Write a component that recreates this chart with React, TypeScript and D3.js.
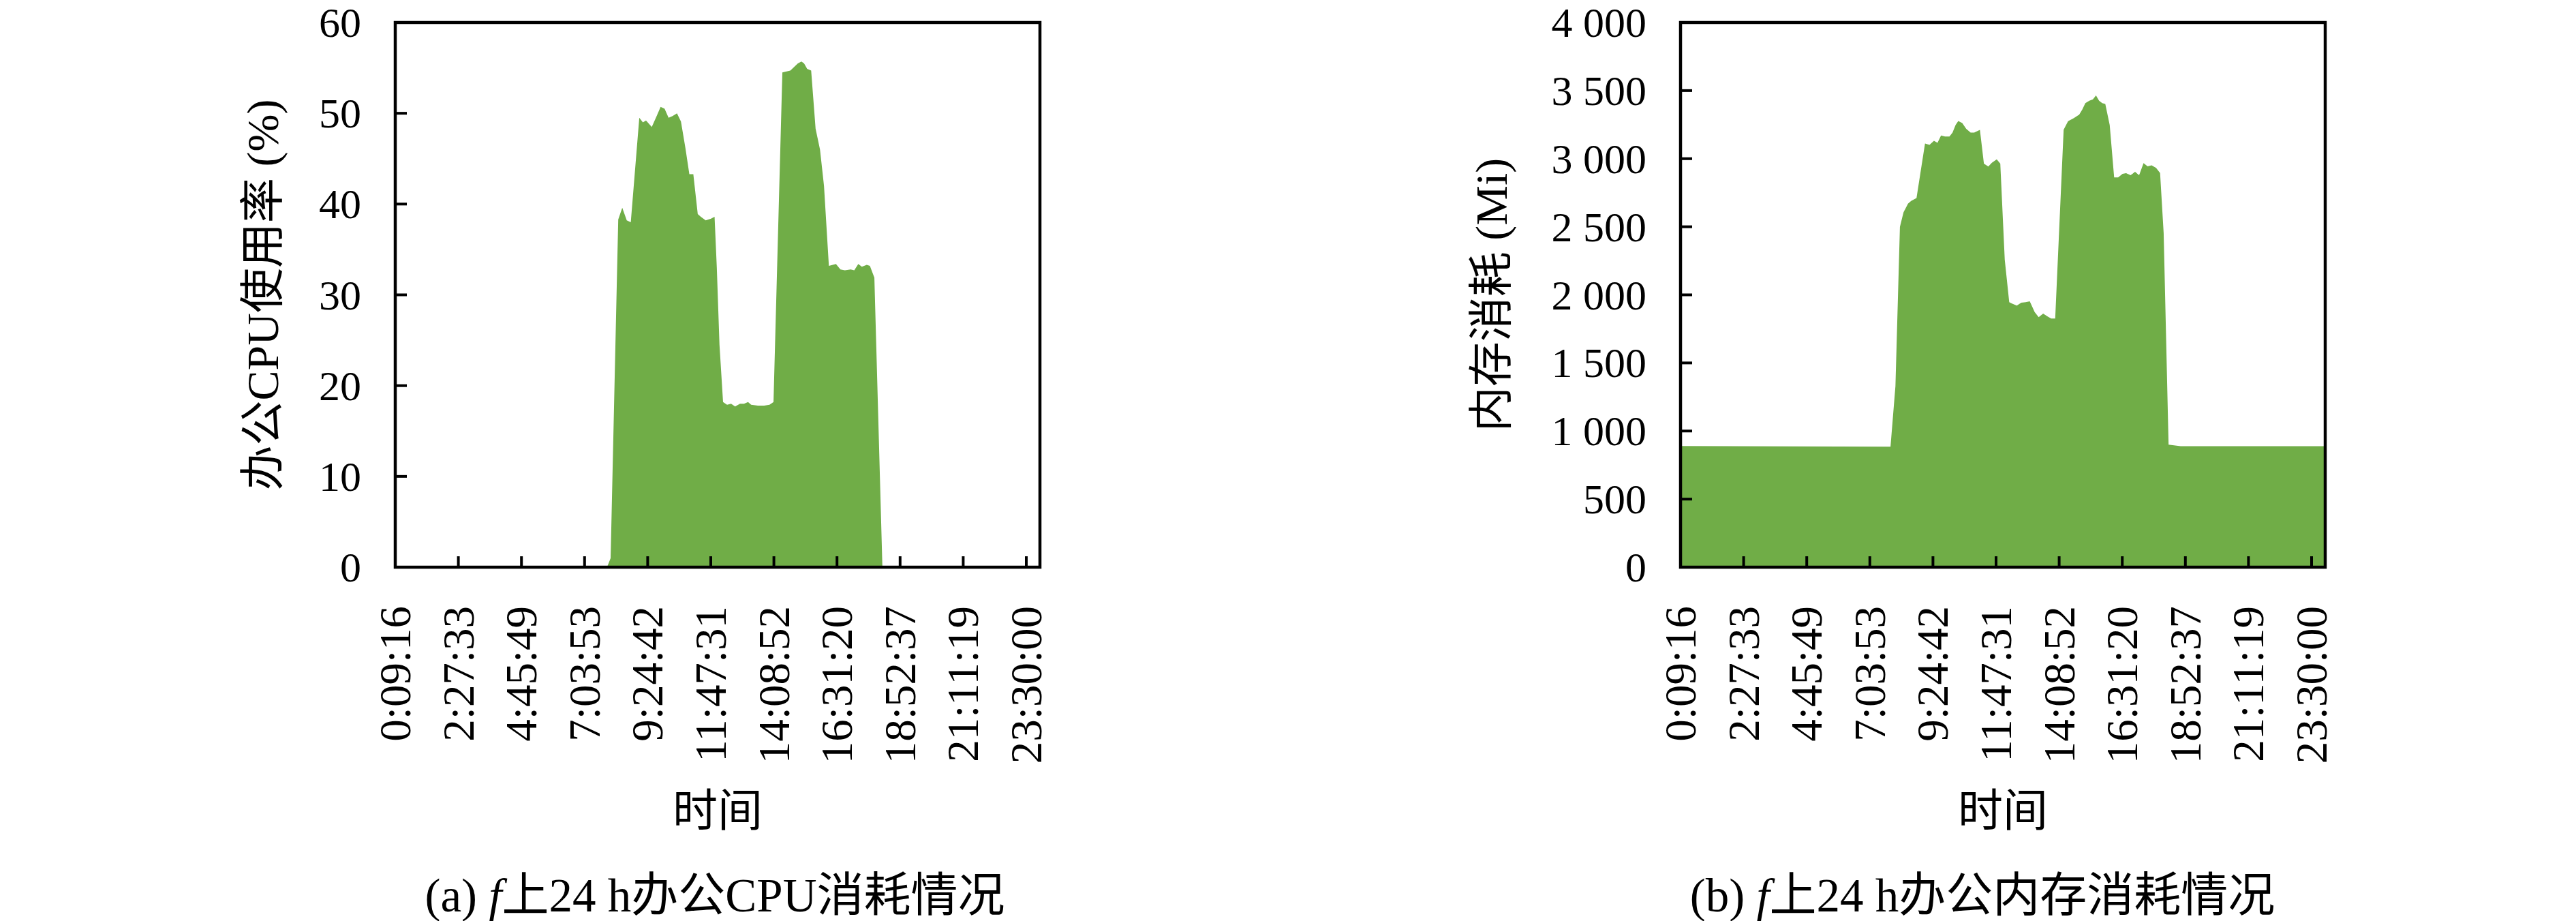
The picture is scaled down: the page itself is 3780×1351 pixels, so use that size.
import React, { useEffect, useRef } from "react";
import * as d3 from "d3";

// category labels on the time axis (every Nth sample)
const tickLabels = [
  "0:09:16", "2:27:33", "4:45:49", "7:03:53", "9:24:42", "11:47:31",
  "14:08:52", "16:31:20", "18:52:37", "21:11:19", "23:30:00",
];
const dayEnd = "24:00";

// CPU usage (%)
const cpuTimes = [
  "0:09:16", "7:54", "8:02", "8:19", "8:28", "8:38", "8:47", "9:06", "9:14", "9:21",
  "9:34", "9:45", "9:54", "10:03", "10:12", "10:21", "10:31", "10:40", "10:50", "10:59",
  "11:08", "11:18", "11:25", "11:36", "11:48", "11:56", "12:01", "12:07", "12:15", "12:24",
  "12:33", "12:42", "12:53", "13:02", "13:11", "13:18", "13:33", "13:47", "13:59", "14:08",
  "14:28", "14:46", "15:03", "15:11", "15:17", "15:24", "15:33", "15:43", "15:53", "16:02",
  "16:13", "16:29", "16:39", "16:49", "17:02", "17:10", "17:19", "17:27", "17:38", "17:45",
  "17:55", "18:13", "24:00",
];
const cpuValues = [
  0, 0, 1.0, 38.3, 39.6, 38.2, 38.0, 49.5, 49.0, 49.2,
  48.5, 49.7, 50.7, 50.5, 49.5, 49.7, 50.0, 49.1, 46.2, 43.3,
  43.3, 38.9, 38.6, 38.2, 38.4, 38.6, 33.0, 24.5, 18.2, 17.9,
  18.0, 17.7, 18.0, 18.0, 18.2, 17.9, 17.8, 17.8, 17.9, 18.2,
  54.5, 54.7, 55.5, 55.7, 55.5, 54.9, 54.7, 48.3, 46.0, 42.0,
  33.2, 33.4, 32.8, 32.7, 32.8, 32.7, 33.4, 33.1, 33.3, 33.2,
  31.9, 0, 0,
];

// memory usage (Mi)
const memTimes = [
  "0:09:16", "7:50", "8:01", "8:11", "8:19", "8:29", "8:36", "8:48", "9:07", "9:17",
  "9:27", "9:35", "9:43", "9:52", "10:02", "10:09", "10:16", "10:22", "10:31", "10:40",
  "10:50", "10:58", "11:11", "11:20", "11:30", "11:38", "11:49", "11:57", "12:07", "12:17",
  "12:24", "12:34", "12:44", "12:54", "13:03", "13:14", "13:23", "13:33", "13:43", "13:51",
  "14:00", "14:19", "14:29", "14:42", "14:54", "15:01", "15:08", "15:17", "15:25", "15:32",
  "15:39", "15:46", "15:53", "16:03", "16:13", "16:22", "16:32", "16:40", "16:50", "17:00",
  "17:09", "17:19", "17:28", "17:37", "17:47", "17:56", "18:04", "18:15", "18:42", "24:00",
];
const memValues = [
  890, 885, 1330, 2500, 2606, 2669, 2690, 2711, 3111, 3101,
  3132, 3117, 3170, 3163, 3163, 3191, 3248, 3276, 3262, 3219,
  3191, 3191, 3211, 2964, 2942, 2970, 2995, 2964, 2258, 1946,
  1935, 1921, 1942, 1946, 1952, 1874, 1836, 1862, 1841, 1826,
  1826, 3213, 3275, 3298, 3323, 3360, 3408, 3425, 3436, 3464,
  3425, 3408, 3402, 3246, 2862, 2862, 2889, 2893, 2878, 2904,
  2878, 2967, 2944, 2951, 2933, 2895, 2453, 900, 889, 888,
];

const cpuTicks = [0, 10, 20, 30, 40, 50, 60];
const memTicks = [0, 500, 1000, 1500, 2000, 2500, 3000, 3500, 4000];

const GREEN = "#70AD47";
const SERIF = "'Liberation Serif', 'DejaVu Serif', 'Noto Sans CJK SC', serif";
const TOP = 33;
const PLOT_H = 799;
const STEP = 92.6; // spacing between labelled categories
const TAIL = 20; // axis runs a little past the last label

// "H:MM" or "H:MM:SS" -> minutes of the day
const toMin = (s: string) => {
  const p = s.split(":").map(Number);
  return p[0] * 60 + p[1] + (p[2] || 0) / 60;
};

const groupFmt = (v: number) =>
  v >= 1000 ? `${Math.floor(v / 1000)}\u2005${String(v % 1000).padStart(3, "0")}` : String(v);

const drawPanel = (svg: any, cfg: any) => {
  const g = svg.append("g").attr("transform", `translate(${cfg.left},${TOP})`);

  // polylinear scale: labelled categories are evenly spaced
  const x = d3
    .scaleLinear()
    .domain([...tickLabels.map(toMin), toMin(dayEnd)])
    .range([...tickLabels.map((_, i) => i * STEP), (tickLabels.length - 1) * STEP + TAIL]);
  const y = d3.scaleLinear().domain([0, cfg.max]).range([PLOT_H, 0]);
  const plotW = x.range()[x.range().length - 1];

  const area = d3
    .area<[string, number]>()
    .x((d) => x(toMin(d[0])))
    .y0(y(0))
    .y1((d) => y(d[1]));

  g.append("path")
    .datum(d3.zip(cfg.times, cfg.values))
    .attr("d", area)
    .attr("fill", GREEN);

  // frame
  g.append("rect")
    .attr("x", 0)
    .attr("y", 0)
    .attr("width", plotW)
    .attr("height", PLOT_H)
    .attr("fill", "none")
    .attr("stroke", "#000")
    .attr("stroke-width", 4.5);

  // x ticks (inside)
  g.selectAll(".xt")
    .data(tickLabels.slice(1))
    .enter()
    .append("line")
    .attr("x1", (d: string) => x(toMin(d)))
    .attr("x2", (d: string) => x(toMin(d)))
    .attr("y1", PLOT_H)
    .attr("y2", PLOT_H - 16)
    .attr("stroke", "#000")
    .attr("stroke-width", 4);

  g.selectAll(".xl")
    .data(tickLabels)
    .enter()
    .append("text")
    .attr("transform", (d: string) => `translate(${x(toMin(d))},${PLOT_H + 57}) rotate(-90)`)
    .attr("text-anchor", "end")
    .attr("dominant-baseline", "central")
    .style("font-family", SERIF)
    .style("font-size", "65px")
    .text((d: string) => d);

  // y ticks (inside)
  g.selectAll(".yt")
    .data(cfg.ticks)
    .enter()
    .append("line")
    .attr("x1", 0)
    .attr("x2", 17)
    .attr("y1", (d: number) => y(d))
    .attr("y2", (d: number) => y(d))
    .attr("stroke", "#000")
    .attr("stroke-width", 4);

  g.selectAll(".yl")
    .data(cfg.ticks)
    .enter()
    .append("text")
    .attr("x", -50)
    .attr("y", (d: number) => y(d))
    .attr("text-anchor", "end")
    .attr("dominant-baseline", "central")
    .style("font-family", SERIF)
    .style("font-size", "62px")
    .text((d: number) => groupFmt(d));

  // axis titles
  g.append("text")
    .attr("transform", `translate(${-cfg.yTitleGap},${PLOT_H / 2}) rotate(-90)`)
    .attr("text-anchor", "middle")
    .attr("dominant-baseline", "central")
    .style("font-family", SERIF)
    .style("font-size", "66px")
    .text(cfg.yTitle);

  g.append("text")
    .attr("x", plotW / 2)
    .attr("y", 1189 - TOP)
    .attr("text-anchor", "middle")
    .attr("dominant-baseline", "central")
    .style("font-family", SERIF)
    .style("font-size", "66px")
    .text("时间");

  // caption
  const cap = g
    .append("text")
    .attr("x", cfg.captionX - cfg.left)
    .attr("y", 1314 - TOP)
    .attr("text-anchor", "middle")
    .attr("dominant-baseline", "central")
    .style("font-family", SERIF)
    .style("font-size", "69px");
  cap.append("tspan").text(cfg.tag + " ");
  cap.append("tspan").style("font-style", "italic").text("f");
  cap.append("tspan").text(cfg.caption);
};

const App = () => {
  const svgRef = useRef<SVGSVGElement>(null);

  useEffect(() => {
    if (!svgRef.current) return;
    const svg = d3.select(svgRef.current);
    svg.selectAll("*").remove();

    drawPanel(svg, {
      left: 580,
      max: 60,
      ticks: cpuTicks,
      times: cpuTimes,
      values: cpuValues,
      yTitle: "办公CPU使用率 (%)",
      yTitleGap: 195,
      tag: "(a)",
      caption: "上24 h办公CPU消耗情况",
      captionX: 1049,
    });

    drawPanel(svg, {
      left: 2466,
      max: 4000,
      ticks: memTicks,
      times: memTimes,
      values: memValues,
      yTitle: "内存消耗 (Mi)",
      yTitleGap: 278,
      tag: "(b)",
      caption: "上24 h办公内存消耗情况",
      captionX: 2909,
    });
  }, []);

  return (
    <svg
      ref={svgRef}
      width={3780}
      height={1351}
      style={{ position: "absolute", left: 0, top: 0, background: "#fff" }}
    />
  );
};

export default App;
